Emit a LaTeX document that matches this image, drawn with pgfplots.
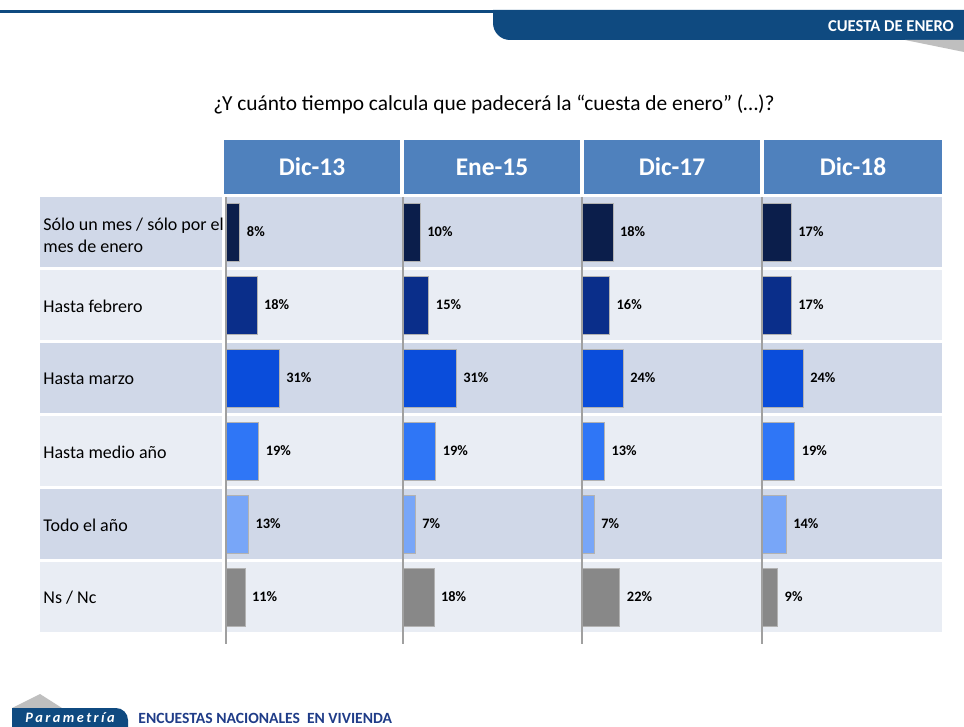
\documentclass[border=0pt]{standalone}
\usepackage{pgfplots}
\pgfplotsset{compat=1.18}
\usepackage{fontspec}
\setmainfont{Carlito}
\definecolor{hdr}{HTML}{4F81BD}
\definecolor{rowA}{HTML}{D0D8E8}
\definecolor{rowB}{HTML}{E9EDF4}
\definecolor{navy}{HTML}{0F4A80}
\definecolor{ftxt}{HTML}{1F3C88}
\definecolor{b1}{HTML}{0B1E4B}
\definecolor{b2}{HTML}{0A2E8A}
\definecolor{b3}{HTML}{0A4DDB}
\definecolor{b4}{HTML}{2F76F6}
\definecolor{b5}{HTML}{78A6F8}
\definecolor{b6}{HTML}{888888}
\definecolor{lineg}{HTML}{A0A0A0}
\pgfplotsset{colstyle/.style={
  anchor=south west, scale only axis, width=89pt, height=219pt,
  xmin=0, xmax=104, ymin=-0.5, ymax=5.5, y dir=reverse,
  axis lines=none, clip=false,
  xbar, bar width=29pt, bar shift=0pt,
  point meta=x,
  /pgf/number format/assume math mode=true,
  nodes near coords={\pgfmathprintnumber{\pgfplotspointmeta}\%},
  every node near coord/.append style={font=\bfseries\fontsize{7.2}{8}\selectfont, anchor=west, inner sep=0pt, xshift=3.5pt, text=black},
  every axis plot/.append style={draw=black!30, line width=0.3pt}
}}
\newcommand{\colaxis}[7]{%
\begin{axis}[colstyle, at={(#1*0.5pt,-316.75pt)}]
\addplot[fill=b1] coordinates {(#2,0)};
\addplot[fill=b2] coordinates {(#3,1)};
\addplot[fill=b3] coordinates {(#4,2)};
\addplot[fill=b4] coordinates {(#5,3)};
\addplot[fill=b5] coordinates {(#6,4)};
\addplot[fill=b6] coordinates {(#7,5)};
\draw[line width=0.9pt, color=lineg] (axis cs:0,-0.48) -- (axis cs:0,5.65);
\end{axis}}
\begin{document}
\begin{tikzpicture}
\begin{scope}[x=0.5pt,y=-0.5pt]
\useasboundingbox (0,0) rectangle (964,727);
\fill[white] (0,0) rectangle (964,727);
% top banner
\fill[navy] (0,10) rectangle (500,13);
\fill[navy] (493,10) -- (493,23) arc[start angle=180,end angle=90,radius=17] -- (964,40) -- (964,10) -- cycle;
\fill[black!25] (905,40) -- (964,40) -- (964,52) -- cycle;
\node[anchor=east, text=white, font=\bfseries\fontsize{8.3}{9}\selectfont] at (961,26) {CUESTA DE ENERO};
% title
\node[font=\fontsize{10.7}{12}\selectfont] at (494,104) {¿Y cuánto tiempo calcula que padecerá la “cuesta de enero” (…)?};
% header
\foreach \l/\r/\t in {224/400/Dic-13, 404/580/Ene-15, 584/760/Dic-17, 764/942/Dic-18}{
  \fill[hdr] (\l,140) rectangle (\r,194);
  \node[text=white, font=\bfseries\fontsize{12.7}{14}\selectfont] at ({(\l+\r)/2},167) {\t};
}
% row backgrounds
\foreach \i in {0,...,5}{
  \pgfmathsetmacro{\top}{197+73*\i}
  \pgfmathsetmacro{\bot}{\top+70}
  \pgfmathtruncatemacro{\odd}{mod(\i,2)}
  \ifnum\odd=0 \def\rc{rowA}\else\def\rc{rowB}\fi
  \fill[\rc] (40,\top) rectangle (222,\bot);
  \fill[\rc] (225,\top) rectangle (942,\bot);
}
% row labels
\begin{scope}[every node/.style={anchor=west, inner sep=0pt, font=\fontsize{9}{11}\selectfont}]
\node[align=left] at (43,235) {Sólo un mes / sólo por el\\mes de enero};
\node at (43,306) {Hasta febrero};
\node at (43,379) {Hasta marzo};
\node at (43,452) {Hasta medio año};
\node at (43,525) {Todo el año};
\node at (43,598) {Ns / Nc};
\end{scope}
% footer
\fill[black!25] (40,694) -- (12,708) -- (62,708) -- cycle;
\fill[navy] (12,727) -- (12,708) -- (116,708) arc[start angle=270,end angle=360,radius=12] -- (128,727) -- cycle;
\node[text=white, font=\bfseries\itshape\fontsize{7.2}{8}\selectfont] at (70,718) {P\,a\,r\,a\,m\,e\,t\,r\,í\,a};
\node[anchor=west, inner sep=0pt, text=ftxt, font=\bfseries\fontsize{7.8}{9}\selectfont] at (138,718) {ENCUESTAS NACIONALES\ \ EN VIVIENDA};
\end{scope}
\colaxis{226}{8}{18}{31}{19}{13}{11}
\colaxis{403}{10}{15}{31}{19}{7}{18}
\colaxis{582}{18}{16}{24}{13}{7}{22}
\colaxis{762}{17}{17}{24}{19}{14}{9}
\end{tikzpicture}
\end{document}
